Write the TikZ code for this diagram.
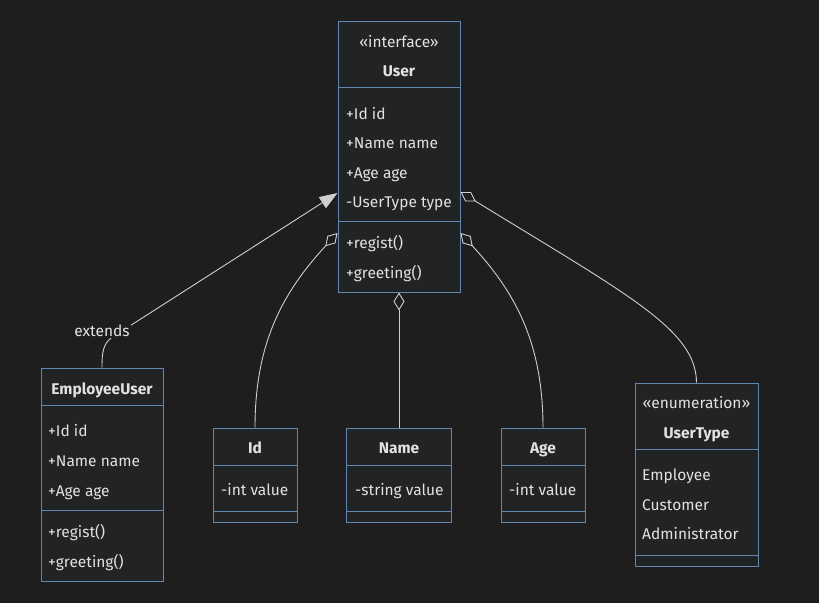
\documentclass[tikz,border=0pt]{standalone}
\usepackage{fontspec}
\setmainfont{Fira Sans}
\usetikzlibrary{arrows.meta,calc}
\definecolor{bgc}{HTML}{1E1E1E}
\definecolor{boxc}{HTML}{212324}
\definecolor{bordc}{HTML}{6088B0}
\definecolor{txtc}{HTML}{E2E2E2}
\definecolor{linec}{HTML}{CFCFCF}
\begin{document}
\begin{tikzpicture}[x=1pt, y=-1pt,
    every node/.style={font=\fontsize{15.5}{18}\selectfont, text=txtc},
    cls/.style={draw=bordc, fill=boxc, line width=1pt, inner sep=0pt},
    div/.style={draw=bordc, line width=1pt},
    mem/.style={anchor=base west, inner sep=0pt},
    hdr/.style={anchor=base, inner sep=0pt, font=\fontsize{15.5}{18}\selectfont\bfseries},
    rel/.style={draw=linec, line width=0.9pt},
    agg/.style={rel, {Diamond[length=18pt, width=11pt, fill=bgc]}-},
    ext/.style={rel, -{Triangle[length=18pt, width=13pt, fill=linec]}}]
      % Background
      \fill[bgc] (0,0) rectangle (819,603);

      % Classes
      \node[cls, minimum width=122, minimum height=271] (user) at (399,156.5) {};
      \node[cls, minimum width=122, minimum height=213] (empuser) at (102,474.5) {};
      \node[cls, minimum width=84, minimum height=94] (idcls) at (255,475) {};
      \node[cls, minimum width=105, minimum height=94] (namecls) at (399,475) {};
      \node[cls, minimum width=84, minimum height=94] (agecls) at (543,475) {};
      \node[cls, minimum width=123, minimum height=183] (typecls) at (696.5,474.5) {};

      \draw[div] ($(user.north west)+(0,67)$) -- ($(user.north east)+(0,67)$);
      \draw[div] ($(user.north west)+(0,201)$) -- ($(user.north east)+(0,201)$);
      \draw[div] ($(empuser.north west)+(0,38)$) -- ($(empuser.north east)+(0,38)$);
      \draw[div] ($(empuser.north west)+(0,143)$) -- ($(empuser.north east)+(0,143)$);
      \foreach \c in {idcls, namecls, agecls} {
        \draw[div] ($(\c.north west)+(0,37.5)$) -- ($(\c.north east)+(0,37.5)$);
        \draw[div] ($(\c.south west)+(0,-11)$) -- ($(\c.south east)+(0,-11)$);
      }
      \draw[div] ($(typecls.north west)+(0,67)$) -- ($(typecls.north east)+(0,67)$);
      \draw[div] ($(typecls.south west)+(0,-11)$) -- ($(typecls.south east)+(0,-11)$);

      % User
      \node[mem, anchor=base] (u-st) at (399,47) {«interface»};
      \node[hdr] (u-hd) at (399,76.5) {User};
      \node[mem] (u-a1) at (346,119) {+Id id};
      \node[mem] (u-a2) at (346,148.5) {+Name name};
      \node[mem] (u-a3) at (346,178) {+Age age};
      \node[mem] (u-a4) at (346,207.5) {-UserType type};
      \node[mem] (u-m1) at (346,248) {+regist()};
      \node[mem] (u-m2) at (346,278) {+greeting()};

      % EmployeeUser
      \node[hdr] (e-hd) at (102,394) {EmployeeUser};
      \node[mem] (e-a1) at (48,436) {+Id id};
      \node[mem] (e-a2) at (48,466) {+Name name};
      \node[mem] (e-a3) at (48,496) {+Age age};
      \node[mem] (e-m1) at (48,537) {+regist()};
      \node[mem] (e-m2) at (48,567) {+greeting()};

      % value classes
      \node[hdr] (i-hd) at (255,453.5) {Id};
      \node[mem] (i-a1) at (221,495) {-int value};
      \node[hdr] (n-hd) at (399,453.5) {Name};
      \node[mem] (n-a1) at (355,495) {-string value};
      \node[hdr] (g-hd) at (543,453.5) {Age};
      \node[mem] (g-a1) at (509,495) {-int value};

      % UserType
      \node[mem, anchor=base] (t-st) at (696.5,408.5) {«enumeration»};
      \node[hdr] (t-hd) at (696.5,438) {UserType};
      \node[mem] (t-v1) at (642,480) {Employee};
      \node[mem] (t-v2) at (642,510) {Customer};
      \node[mem] (t-v3) at (642,539.5) {Administrator};

      % Relations
      \coordinate (u-ext) at ($(user.west)+(0,36.5)$);
      \coordinate (u-idp) at ($(user.west)+(0,76.5)$);
      \coordinate (u-agep) at ($(user.east)+(0,76.5)$);
      \coordinate (u-typep) at ($(user.east)+(0,35.5)$);
      \coordinate (ext-bend) at (111,338);

      \draw[ext] (empuser.north) .. controls (102,352) and (103,345) .. (ext-bend) -- (u-ext);
      \node[fill=bgc, inner sep=1.5pt, anchor=base] (extlbl) at (102,336.5) {extends};
      \draw[agg] (u-idp) .. controls (285,290) and (255,340) .. (idcls.north);
      \draw[agg] (user.south) -- (namecls.north);
      \draw[agg] (u-agep) .. controls (513,290) and (543,340) .. (agecls.north);
      \draw[agg] (u-typep) .. controls (630,296) and (696,330) .. (typecls.north);
    \end{tikzpicture}
\end{document}
